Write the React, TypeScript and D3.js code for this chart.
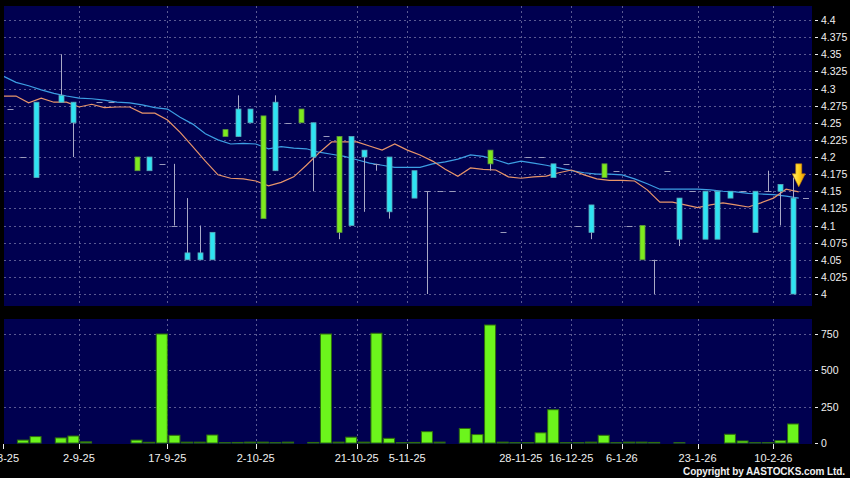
import React from 'react';
import * as d3 from 'd3';

const W = 850;
const H = 478;

// slot index (one slot per traded day shown)
const slotCount = 64;
const dateTickSlots = [0, 6, 13, 20, 28, 32, 41, 45, 49, 55, 61];
const dateLabels = ['8-8-25', '2-9-25', '17-9-25', '2-10-25', '21-10-25', '5-11-25', '28-11-25', '16-12-25', '6-1-26', '23-1-26', '10-2-26'];

// OHLC per slot 0..62 (null = no candle drawn)
const opens: (number | null)[] = [4.27, 4.20, 4.28, null, 4.29, 4.28, null, 4.28, 4.28, null,
  4.18, 4.20, 4.19, 4.10, 4.06, 4.06, 4.09, 4.23, 4.27, 4.27,
  4.11, 4.28, 4.25, 4.25, 4.25, 4.23, 4.09, 4.23, 4.21, 4.19,
  4.20, null, 4.18, 4.15, 4.15, 4.15, null, null, 4.19, 4.09,
  null, 4.20, 4.20, 4.19, 4.19, 4.10, 4.13, 4.17, 4.18, 4.10,
  4.05, 4.05, 4.18, 4.14, 4.15, 4.15, 4.15, 4.15, 4.15, 4.15,
  4.15, 4.16, 4.14];
const highs: (number | null)[] = [4.27, 4.20, 4.28, null, 4.35, 4.28, null, 4.28, 4.28, null,
  4.20, 4.20, 4.19, 4.19, 4.14, 4.10, 4.09, 4.24, 4.29, 4.27,
  4.26, 4.29, 4.25, 4.27, 4.25, 4.23, 4.23, 4.23, 4.21, 4.19,
  4.20, null, 4.18, 4.15, 4.15, 4.15, null, null, 4.21, 4.09,
  null, 4.20, 4.20, 4.19, 4.19, 4.10, 4.13, 4.19, 4.18, 4.10,
  4.10, 4.05, 4.18, 4.14, 4.15, 4.15, 4.15, 4.15, 4.15, 4.15,
  4.18, 4.16, 4.17];
const lows: (number | null)[] = [4.27, 4.20, 4.17, null, 4.28, 4.20, null, 4.28, 4.28, null,
  4.18, 4.18, 4.19, 4.10, 4.05, 4.05, 4.05, 4.23, 4.23, 4.25,
  4.11, 4.18, 4.25, 4.25, 4.15, 4.23, 4.08, 4.10, 4.12, 4.18,
  4.11, null, 4.14, 4.00, 4.15, 4.15, null, null, 4.18, 4.09,
  null, 4.20, 4.20, 4.17, 4.19, 4.10, 4.08, 4.17, 4.18, 4.10,
  4.05, 4.00, 4.18, 4.07, 4.15, 4.08, 4.08, 4.14, 4.15, 4.09,
  4.15, 4.10, 4.00];
const closes: (number | null)[] = [4.27, 4.20, 4.17, null, 4.28, 4.25, null, 4.28, 4.28, null,
  4.20, 4.18, 4.19, 4.10, 4.05, 4.05, 4.05, 4.24, 4.23, 4.25,
  4.26, 4.18, 4.25, 4.27, 4.20, 4.23, 4.23, 4.10, 4.20, 4.19,
  4.12, null, 4.14, 4.15, 4.15, 4.15, null, null, 4.21, 4.09,
  null, 4.20, 4.20, 4.17, 4.19, 4.10, 4.09, 4.19, 4.18, 4.10,
  4.10, 4.05, 4.18, 4.08, 4.15, 4.08, 4.08, 4.14, 4.15, 4.09,
  4.15, 4.15, 4.00];
const volumes = [0, 20, 44, 0, 35, 48, 8, 0, 0, 0,
  20, 5, 750, 53, 6, 6, 55, 2, 4, 6,
  6, 2, 6, 0, 4, 750, 6, 40, 6, 755,
  32, 2, 4, 78, 6, 0, 100, 58, 812, 6,
  2, 2, 70, 229, 2, 2, 6, 53, 2, 6,
  6, 4, 0, 2, 0, 0, 0, 60, 14, 2,
  2, 16, 131];
const lastPrice = 4.14;

// moving averages, slots -1..62
const maStartSlot = -1;
const maBlue = [4.318, 4.309, 4.304, 4.298, 4.293, 4.289, 4.286, 4.285, 4.283, 4.280, 4.279, 4.276, 4.272, 4.270, 4.258, 4.248,
  4.234, 4.225, 4.219, 4.220, 4.219, 4.212, 4.215, 4.213, 4.212, 4.207, 4.204, 4.201, 4.196, 4.191, 4.188, 4.185,
  4.185, 4.185, 4.190, 4.193, 4.197, 4.203, 4.201, 4.196, 4.190, 4.194, 4.191, 4.188, 4.184, 4.180, 4.177, 4.175,
  4.175, 4.174, 4.168, 4.161, 4.153, 4.153, 4.153, 4.153, 4.152, 4.150, 4.149, 4.147, 4.146, 4.145, 4.143, 4.140];
const maOrange = [4.289, 4.289, 4.279, 4.286, 4.280, 4.280, 4.273, 4.277, 4.272, 4.273, 4.273, 4.264, 4.264, 4.254, 4.236, 4.215,
  4.194, 4.174, 4.169, 4.168, 4.165, 4.158, 4.163, 4.171, 4.188, 4.206, 4.222, 4.222, 4.222, 4.216, 4.210, 4.219,
  4.210, 4.203, 4.194, 4.182, 4.172, 4.184, 4.182, 4.181, 4.171, 4.169, 4.171, 4.172, 4.177, 4.181, 4.174, 4.168,
  4.166, 4.166, 4.165, 4.152, 4.134, 4.134, 4.130, 4.126, 4.130, 4.133, 4.130, 4.127, 4.133, 4.140, 4.153, 4.149];

const priceTicks = d3.range(0, 17).map((i) => 4 + i * 0.025);
const volTicks = [0, 250, 500, 750];
const arrowPrice = 4.19;

const BG = '#000050';
const GRID = '#5a5a92';
const CYAN = '#2fe3f2';
const GREEN = '#7eea1e';
const WICK = '#a9a9c6';
const DOJI = '#9a9abb';
const TXT = '#f0f0f0';
const FONT = '"Liberation Sans", Arial, sans-serif';

export default function App() {
  const left = 4, right = 812;
  const mainTop = 6, mainBottom = 306;
  const volTop = 319, volBottom = 444;

  const x = d3.scaleLinear().domain([-0.5, slotCount - 0.5]).range([left, right]);
  const step = x(1) - x(0);
  const y = d3.scaleLinear().domain([4.0, 4.4]).range([294, 20]);
  const yv = d3.scaleLinear().domain([0, 750]).range([443, 334]);

  const maOffset = step * 0.45;
  const lineGen = (vals: number[]) =>
    d3.line<number>()
      .x((_, i) => x(i + maStartSlot) + maOffset)
      .y((v) => y(v))(vals) || '';

  const tickX = (k: number) => x(k - 0.5) - 0.8;

  const bodyW = 5;
  const volW = 11;

  const candles = opens.map((o, i) => {
    const h = highs[i], l = lows[i], c = closes[i];
    if (o === null || h === null || l === null || c === null) return null;
    const cx = Math.round(x(i)) + 0.5;
    const top = Math.max(o, c), bot = Math.min(o, c);
    const els: React.ReactNode[] = [];
    if (h > top || l < bot) {
      els.push(<line key="w" x1={cx} x2={cx} y1={y(h)} y2={y(l)} stroke={WICK} strokeWidth={1} />);
    }
    if (o === c) {
      els.push(<line key="d" x1={cx - 3} x2={cx + 3} y1={Math.round(y(o)) + 0.5} y2={Math.round(y(o)) + 0.5} stroke={DOJI} strokeWidth={1} />);
    } else {
      const fill = c > o ? GREEN : CYAN;
      els.push(<rect key="b" x={cx - bodyW / 2} y={y(top)} width={bodyW} height={y(bot) - y(top)} fill={fill} stroke={c > o ? '#5d9a3a' : '#5aa8b8'} strokeWidth={0.8} />);
    }
    return <g key={i}>{els}</g>;
  });

  const ax = x(62) + maOffset;
  const ay = y(arrowPrice);
  const arrowPath = `M${ax - 3},${ay} L${ax + 3},${ay} L${ax + 3},${ay + 10} L${ax + 6.5},${ay + 10} L${ax},${ay + 23} L${ax - 6.5},${ay + 10} L${ax - 3},${ay + 10} Z`;

  return (
    <svg width={W} height={H} style={{ position: 'absolute', left: 0, top: 0, display: 'block' }} fontFamily={FONT}>
      <defs>
        <clipPath id="mainClip"><rect x={left} y={mainTop} width={right - left} height={mainBottom - mainTop} /></clipPath>
        <linearGradient id="arrowGrad" x1="0" y1="0" x2="1" y2="0">
          <stop offset="0" stopColor="#fff27a" />
          <stop offset="0.5" stopColor="#ffd21e" />
          <stop offset="1" stopColor="#e89400" />
        </linearGradient>
      </defs>
      <rect x={0} y={0} width={W} height={H} fill="#000" />
      {/* main panel */}
      <rect x={left} y={mainTop} width={right - left} height={mainBottom - mainTop} fill={BG} />
      {priceTicks.map((p) => (
        <line key={'hg' + p} x1={left} x2={right} y1={Math.round(y(p)) + 0.5} y2={Math.round(y(p)) + 0.5} stroke={GRID} strokeDasharray="2,3" strokeWidth={1} />
      ))}
      {dateTickSlots.slice(1).map((k) => (
        <line key={'vg' + k} x1={Math.round(tickX(k)) + 0.5} x2={Math.round(tickX(k)) + 0.5} y1={mainTop} y2={mainBottom} stroke={GRID} strokeDasharray="2,3" strokeWidth={1} />
      ))}
      <g clipPath="url(#mainClip)">
        <path d={lineGen(maBlue)} fill="none" stroke="#3d9fe3" strokeWidth={1.2} />
        <path d={lineGen(maOrange)} fill="none" stroke="#e8956a" strokeWidth={1.2} />
        {candles}
        <line x1={Math.round(x(63)) - 3} x2={Math.round(x(63)) + 3} y1={Math.round(y(lastPrice)) + 0.5} y2={Math.round(y(lastPrice)) + 0.5} stroke={DOJI} strokeWidth={1} />
      </g>
      <path d={arrowPath} fill="url(#arrowGrad)" stroke="#c98000" strokeWidth={0.6} />
      {/* price axis */}
      {priceTicks.map((p) => (
        <g key={'pt' + p}>
          <line x1={815} x2={818} y1={Math.round(y(p)) + 0.5} y2={Math.round(y(p)) + 0.5} stroke={TXT} strokeWidth={1} />
          <text x={821} y={y(p) + 4} fontSize={10.5} fill={TXT}>{String(+p.toFixed(3))}</text>
        </g>
      ))}
      {/* volume panel */}
      <rect x={left} y={volTop} width={right - left} height={volBottom - volTop} fill={BG} />
      {volTicks.slice(1).map((v) => (
        <line key={'vh' + v} x1={left} x2={right} y1={Math.round(yv(v)) + 0.5} y2={Math.round(yv(v)) + 0.5} stroke={GRID} strokeDasharray="2,3" strokeWidth={1} />
      ))}
      {dateTickSlots.slice(1).map((k) => (
        <line key={'vvg' + k} x1={Math.round(tickX(k)) + 0.5} x2={Math.round(tickX(k)) + 0.5} y1={volTop} y2={volBottom} stroke={GRID} strokeDasharray="2,3" strokeWidth={1} />
      ))}
      {volumes.map((v, i) => v > 0 ? (
        <rect key={'v' + i} x={x(i) - volW / 2} y={yv(v)} width={volW} height={yv(0) - yv(v)} fill="#6cf51c" stroke="#2f6e0c" strokeWidth={1} />
      ) : null)}
      {volTicks.map((v) => (
        <g key={'vt' + v}>
          <line x1={815} x2={818} y1={Math.round(yv(v)) + 0.5} y2={Math.round(yv(v)) + 0.5} stroke={TXT} strokeWidth={1} />
          <text x={821} y={yv(v) + 4} fontSize={10.5} fill={TXT}>{v}</text>
        </g>
      ))}
      {/* date axis */}
      {dateTickSlots.map((k, j) => (
        <g key={'dt' + k}>
          <line x1={Math.round(tickX(k)) + 0.5} x2={Math.round(tickX(k)) + 0.5} y1={volBottom} y2={volBottom + 5} stroke={TXT} strokeWidth={1} />
          <text x={tickX(k)} y={462} fontSize={11} fill={TXT} textAnchor="middle">{dateLabels[j]}</text>
        </g>
      ))}
      <text x={683} y={475} fontSize={10} fontWeight="bold" fill={TXT} textLength={162} lengthAdjust="spacing">Copyright by AASTOCKS.com Ltd.</text>
    </svg>
  );
}
